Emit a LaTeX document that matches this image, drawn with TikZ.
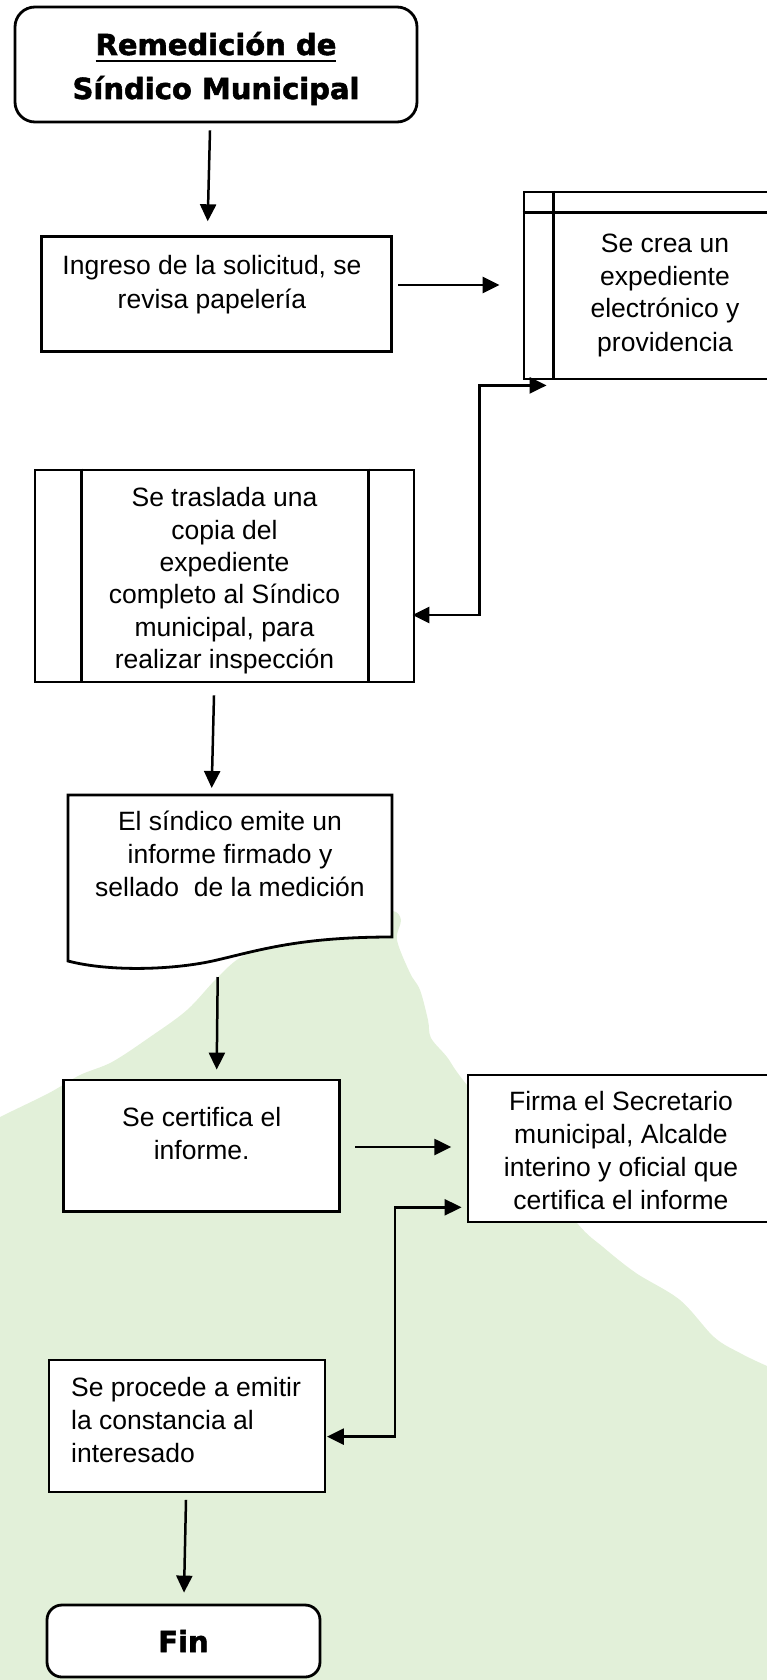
\documentclass[tikz,border=0pt]{standalone}
\usepackage{fontspec}
\setmainfont{Liberation Sans}
\newfontfamily\ttlfont{DejaVu Sans}[BoldFeatures={FakeBold=1.8}]
\usetikzlibrary{arrows.meta,calc}
\definecolor{bggreen}{HTML}{E2F0D9}
\newcommand\ulbox[1]{\setbox0=\hbox{#1}\rlap{\rule[-7.5pt]{\wd0}{2.8pt}}\box0}
\begin{document}
\begin{tikzpicture}[x=1pt,y=-1pt,
  box/.style={draw, line width=2.8pt, fill=white, inner sep=0pt},
  conn/.style={line width=2.5pt, -{Triangle[length=17pt,width=16pt]}},
  conntwo/.style={line width=2.5pt, {Triangle[length=17pt,width=16pt]}-{Triangle[length=17pt,width=16pt]}},
  txt/.style={inner sep=0pt, anchor=base, font=\fontsize{26.5}{33}\selectfont},
  ttl/.style={inner sep=0pt, anchor=base, font=\ttlfont\bfseries\fontsize{29}{44}\selectfont}]
\path[use as bounding box] (0,0) rectangle (767,1680);
\clip (0,0) rectangle (767,1680);
% green background
\fill[bggreen] plot[smooth, tension=0.55] coordinates {(-30,1133) (0,1117) (49,1093) (80,1075) (112,1062) (150,1037) (187,1010) (218,977) (245,955) (300,936) (370,915) (393,911) (401,920) (397,940) (410,973) (420,990) (428,1020) (431,1038) (447,1057) (463,1080) (520,1150) (577,1223) (603,1247) (636,1273) (680,1300) (714,1337) (740,1353) (767,1366) (800,1380)} -- (800,1700) -- (-30,1700) -- cycle;
% nodes
\node[box, rounded corners=20pt, minimum width=402pt, minimum height=115pt] (title) at (216,64.5) {};
\node[box, minimum width=350pt, minimum height=115pt] (b2) at (216.7,294.2) {};
\node[box, minimum width=251pt, minimum height=187pt] (b3) at (649.5,285.5) {};
\draw[line width=2.8pt] ($(b3.north west)+(31,0)$) -- ($(b3.south west)+(31,0)$);
\draw[line width=2.8pt] ($(b3.north west)+(0,22)$) -- ($(b3.north east)+(0,22)$);
\node[box, minimum width=379pt, minimum height=212pt] (b4) at (224.5,576) {};
\draw[line width=2.8pt] ($(b4.north west)+(48,0)$) -- ($(b4.south west)+(48,0)$);
\draw[line width=2.8pt] ($(b4.north east)+(-47,0)$) -- ($(b4.south east)+(-47,0)$);
\node[inner sep=0pt, outer sep=0pt, minimum width=324pt, minimum height=142pt, anchor=north west] (b5) at (68,795) {};
\draw[box] (b5.north west) -- (b5.north east) -- (b5.south east)
  .. controls ($(b5.south east)+(-92,0)$) and ($(b5.south east)+(-132,13)$) .. ($(b5.south east)+(-175,23)$)
  .. controls ($(b5.south east)+(-217,33)$) and ($(b5.south east)+(-282,35)$) .. ($(b5.south west)+(0,24)$) -- cycle;
\node[box, minimum width=276pt, minimum height=131.5pt] (b6) at (201.5,1145.75) {};
\node[box, minimum width=308pt, minimum height=147pt] (b7) at (622,1148.5) {};
\node[box, minimum width=276pt, minimum height=132pt] (b8) at (187,1426) {};
\node[box, rounded corners=15pt, minimum width=273pt, minimum height=72pt] (fin) at (183.5,1641) {};
% texts
\node[ttl] (titletxt) at (216,55) {\begin{tabular}[t]{@{}c@{}}\ulbox{Remedición de}\\Síndico Municipal\end{tabular}};
\node[txt] (t2) at (212,275) {\begin{tabular}[t]{@{}c@{}}Ingreso de la solicitud, se\\revisa papelería\end{tabular}};
\node[txt] (t3) at (665,252) {\begin{tabular}[t]{@{}c@{}}Se crea un\\expediente\\electrónico y\\providencia\end{tabular}};
\node[txt, font=\fontsize{26.5}{32.4}\selectfont] (t4) at (224.5,506.7) {\begin{tabular}[t]{@{}c@{}}Se traslada una\\copia del\\expediente\\completo al Síndico\\municipal, para\\realizar inspección\end{tabular}};
\node[txt] (t5) at (230,830.7) {\begin{tabular}[t]{@{}c@{}}El síndico emite un\\informe firmado y\\sellado\ \ de la medición\end{tabular}};
\node[txt] (t6) at (201.7,1126.7) {\begin{tabular}[t]{@{}c@{}}Se certifica el\\informe.\end{tabular}};
\node[txt] (t7) at (621,1110.7) {\begin{tabular}[t]{@{}c@{}}Firma el Secretario\\municipal, Alcalde\\interino y oficial que\\certifica el informe\end{tabular}};
\node[txt, anchor=base west] (t8) at (71,1396.3) {\begin{tabular}[t]{@{}l@{}}Se procede a emitir\\la constancia al\\interesado\end{tabular}};
\node[ttl] (fintxt) at (183.5,1652) {Fin};
% connector end points
\coordinate (a1s) at ($(title.south)+(-6,7)$);
\coordinate (a1e) at ($(b2.north)+(-9,-14)$);
\coordinate (a2s) at ($(b2.east)+(5.3,-9.2)$);
\coordinate (a2e) at ($(b3.west)+(-23,-0.5)$);
\coordinate (a3s) at ($(b3.south west)+(24,5)$);
\coordinate (a3e) at ($(b4.east)+(-3,39)$);
\coordinate (a4s) at ($(b4.south)+(-10.5,12)$);
\coordinate (a4e) at ($(b5.north)+(-18.3,-7)$);
\coordinate (a5s) at ($(b5.south)+(-12.3,40)$);
\coordinate (a5e) at ($(b6.north)+(15.2,-9)$);
\coordinate (a6s) at ($(b6.east)+(14.5,1.25)$);
\coordinate (a6e) at ($(b7.west)+(-15.3,-1.5)$);
\coordinate (a7s) at ($(b7.west)+(-5,58.8)$);
\coordinate (a7e) at ($(b8.east)+(0.5,10.6)$);
\coordinate (a8s) at ($(b8.south)+(-1,6.5)$);
\coordinate (a8e) at ($(fin.north)+(0.5,-11)$);
% connectors
\draw[conn] (a1s) -- (a1e);
\draw[conn] (a2s) -- (a2e);
\draw[conntwo] (a3e) -- ++(67,0) |- (a3s);
\draw[conn] (a4s) -- (a4e);
\draw[conn] (a5s) -- (a5e);
\draw[conn] (a6s) -- (a6e);
\draw[conntwo] (a7e) -- ++(68,0) |- (a7s);
\draw[conn] (a8s) -- (a8e);
\end{tikzpicture}
\end{document}
